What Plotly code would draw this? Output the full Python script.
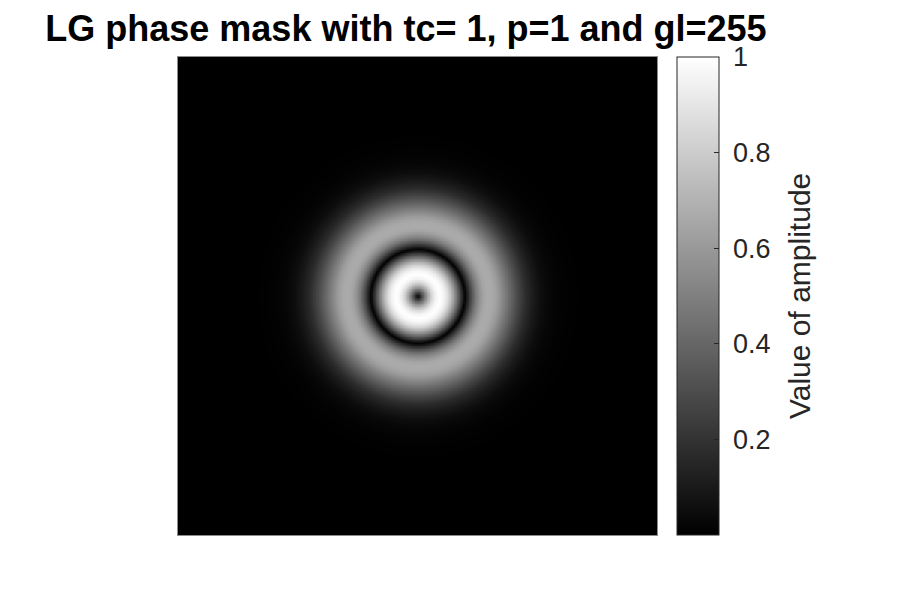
import numpy as np
import plotly.graph_objects as go

# radial amplitude profile (radius in image pixels from the centre)
radius_px = [0, 3, 6, 10, 14, 18, 22, 26, 30, 34, 38, 42, 45, 47, 50, 54, 58, 62, 66,
             70, 75, 80, 86, 92, 100, 108, 116, 124, 132, 142, 155, 170, 200, 340]
amplitude = [0.0, 0.22, 0.42, 0.66, 0.85, 0.96, 1.0, 0.96, 0.86, 0.70, 0.50, 0.28, 0.11,
             0.0, 0.15, 0.33, 0.48, 0.58, 0.65, 0.67, 0.66, 0.61, 0.51, 0.41, 0.28, 0.17,
             0.10, 0.05, 0.025, 0.01, 0.003, 0.0, 0.0, 0.0]

cbar_ticks = [0.2, 0.4, 0.6, 0.8, 1]
cbar_labels = ["0.2", "0.4", "0.6", "0.8", "1"]
title = "LG phase mask with tc= 1, p=1 and gl=255"
cbar_title = "Value of amplitude"

# image grid (479 px wide in the picture)
n = 320
coords = np.linspace(-239.5, 239.5, n)
xx, yy = np.meshgrid(coords, coords)
rr = np.sqrt(xx ** 2 + yy ** 2)
z = np.interp(rr, radius_px, amplitude)

font = "Liberation Sans, Arial"

fig = go.Figure()
fig.add_trace(go.Heatmap(
    x=coords, y=coords, z=z,
    colorscale=[[0, "black"], [1, "white"]],
    zmin=0, zmax=1, zsmooth="best",
    colorbar=dict(
        x=1.0418, xanchor="left", xpad=0,
        y=0.5, yanchor="middle", ypad=0,
        thickness=42, thicknessmode="pixels",
        len=478, lenmode="pixels",
        outlinewidth=1, outlinecolor="#262626",
        tickvals=cbar_ticks, ticktext=["\u00a0" + t for t in cbar_labels],
        ticks="inside", ticklen=5, tickcolor="#262626",
        tickfont=dict(family=font, size=27, color="#262626"),
    ),
))

# colorbar label placed by hand so it sits where the reference has it
fig.add_annotation(
    text=cbar_title, textangle=-90, showarrow=False,
    xref="paper", yref="paper", x=1.2965, y=0.5,
    xanchor="center", yanchor="middle",
    font=dict(family=font, size=30, color="#262626"),
)

axis_style = dict(showticklabels=False, ticks="", showgrid=False, zeroline=False,
                  showline=True, linecolor="#8c8c8c", linewidth=1, mirror=True)
fig.update_xaxes(range=[coords[0], coords[-1]], **axis_style)
fig.update_yaxes(range=[coords[0], coords[-1]], **axis_style)

fig.update_layout(
    width=903, height=592,
    margin=dict(l=170, r=254, t=49, b=65),
    paper_bgcolor="white", plot_bgcolor="black",
    title=dict(text="<b>" + title + "</b>", x=0.4407, xanchor="center",
               y=0.965, yanchor="middle",
               font=dict(family=font, size=36, color="black")),
)

fig.write_html("out.html")
